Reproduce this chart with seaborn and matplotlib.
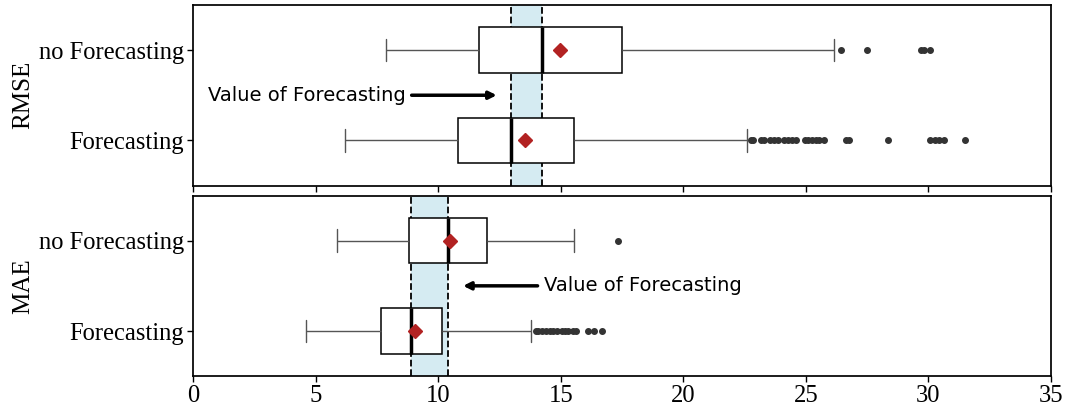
import numpy as np
import pandas as pd
import matplotlib
matplotlib.use('Agg')
import matplotlib.pyplot as plt
import seaborn as sns

groups = ['no Forecasting', 'Forecasting']

# each error value and how many runs landed on it, plus single outlier runs
rmse_nofc_vals = [7.85, 8.6, 9.4, 10.1, 10.7, 11.2, 11.65, 12.1, 12.8, 13.6, 14.25, 14.9, 15.7, 16.7, 17.5,
                  18.3, 19.5, 20.8, 22.2, 23.7, 25.2, 26.15]
rmse_nofc_counts = [1, 5, 10, 18, 30, 36, 1, 30, 35, 34, 1, 34, 35, 30, 1,
                    30, 24, 16, 12, 8, 4, 1]
rmse_nofc_outliers = [26.45, 27.5, 29.7, 29.8, 30.05]

rmse_fc_vals = [6.2, 7.0, 7.8, 8.5, 9.2, 9.8, 10.4, 10.8, 11.2, 11.7, 12.4, 12.95, 13.5, 14.2, 14.9, 15.55,
                16.0, 16.8, 17.9, 19.3, 21.0, 22.6]
rmse_fc_counts = [1, 8, 14, 18, 20, 20, 19, 1, 40, 35, 24, 1, 45, 32, 22, 1,
                  30, 20, 12, 8, 4, 1]
rmse_fc_outliers = [22.75, 22.85, 23.15, 23.3, 23.55, 23.7, 23.85, 24.1, 24.25, 24.45, 24.6, 24.95, 25.1,
                    25.25, 25.4, 25.55, 25.75, 26.65, 26.75, 28.35, 30.05, 30.25, 30.45, 30.65, 31.5]

mae_nofc_vals = [5.87, 6.6, 7.3, 7.9, 8.4, 8.8, 9.2, 9.6, 10.0, 10.38, 10.8, 11.2, 11.6, 11.97,
                 12.4, 13.0, 13.7, 14.5, 15.1, 15.54]
mae_nofc_counts = [1, 6, 13, 30, 50, 1, 33, 33, 33, 1, 33, 33, 33, 1,
                   34, 32, 18, 10, 4, 1]
mae_nofc_outliers = [17.33]

mae_fc_vals = [4.62, 5.4, 6.1, 6.7, 7.2, 7.67, 8.0, 8.3, 8.6, 8.9, 9.2, 9.5, 9.85, 10.17,
               10.5, 11.0, 11.7, 12.5, 13.3, 13.8]
mae_fc_counts = [1, 8, 16, 30, 45, 1, 40, 33, 26, 1, 40, 33, 26, 1,
                 40, 22, 12, 7, 3, 1]
mae_fc_outliers = [13.97, 14.09, 14.25, 14.39, 14.57, 14.7, 14.84, 15.04, 15.18, 15.31, 15.48, 15.61,
                   16.1, 16.35, 16.7]


def expand(vals, counts, outliers):
    return np.concatenate([np.repeat(vals, counts), outliers])


rmse = {'no Forecasting': expand(rmse_nofc_vals, rmse_nofc_counts, rmse_nofc_outliers),
        'Forecasting': expand(rmse_fc_vals, rmse_fc_counts, rmse_fc_outliers)}
mae = {'no Forecasting': expand(mae_nofc_vals, mae_nofc_counts, mae_nofc_outliers),
       'Forecasting': expand(mae_fc_vals, mae_fc_counts, mae_fc_outliers)}


def to_long(d):
    return pd.DataFrame([(g, v) for g in groups for v in d[g]], columns=['group', 'value'])


sns.set_theme(style='ticks')
plt.rcParams['font.family'] = ['Liberation Serif', 'DejaVu Serif']
plt.rcParams['axes.edgecolor'] = 'black'
plt.rcParams['text.color'] = 'black'
plt.rcParams['axes.labelcolor'] = 'black'
plt.rcParams['xtick.color'] = 'black'
plt.rcParams['ytick.color'] = 'black'

fig, (ax1, ax2) = plt.subplots(2, 1, figsize=(10.67, 4.08), dpi=100, sharex=True)
fig.subplots_adjust(left=0.181, right=0.985, top=0.988, bottom=0.078, hspace=0.055)

box_kw = dict(
    width=0.5, whis=1.5, color='white', linecolor='black', linewidth=1.1,
    showmeans=True,
    meanprops=dict(marker='D', markerfacecolor='#b22222', markeredgecolor='#b22222', markersize=7),
    medianprops=dict(color='black', linewidth=2.5),
    whiskerprops=dict(color='#555555', linewidth=1.0),
    capprops=dict(color='#555555', linewidth=1.0),
    flierprops=dict(marker='o', markersize=4, markerfacecolor='#333333', markeredgecolor='#333333'),
)

for ax, d, label in [(ax1, rmse, 'RMSE'), (ax2, mae, 'MAE')]:
    sns.boxplot(data=to_long(d), x='value', y='group', order=groups, ax=ax, **box_kw)
    m_no = np.median(d['no Forecasting'])
    m_fc = np.median(d['Forecasting'])
    ax.axvspan(min(m_no, m_fc), max(m_no, m_fc), color='lightblue', alpha=0.5, zorder=0, lw=0)
    ax.axvline(m_no, color='black', ls='--', lw=1.3, zorder=0.5)
    ax.axvline(m_fc, color='black', ls='--', lw=1.3, zorder=0.5)
    ax.set_ylabel(label, fontsize=18, labelpad=3)
    ax.set_xlabel('')
    ax.tick_params(axis='both', labelsize=17.7, length=4, width=1, pad=2.5)
    ax.set_ylim(1.5, -0.5)
    for s in ax.spines.values():
        s.set_visible(True)
        s.set_color('black')

ax1.set_xlim(0, 35)
ax1.set_xticks(range(0, 36, 5))

arrow = dict(arrowstyle='-|>', lw=2.5, color='black', mutation_scale=11)
ax1.annotate('Value of Forecasting', xy=(12.5, 0.5), xytext=(0.6, 0.5), va='center', ha='left',
             fontsize=14, family='DejaVu Sans', color='black', arrowprops=arrow)
ax2.annotate('Value of Forecasting', xy=(10.9, 0.5), xytext=(14.3, 0.5), va='center', ha='left',
             fontsize=14, family='DejaVu Sans', color='black', arrowprops=arrow)

fig.savefig('out.png', dpi=100)
